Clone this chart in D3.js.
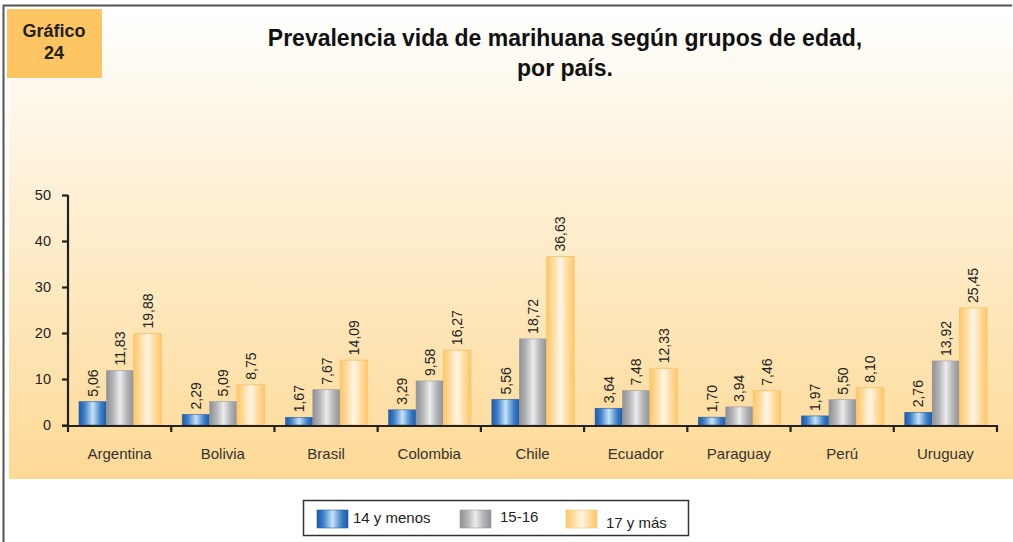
<!DOCTYPE html>
<html><head><meta charset="utf-8">
<script src="https://cdn.jsdelivr.net/npm/d3@7"></script>
<style>body{margin:0;background:#fff}svg{display:block;font-family:"Liberation Sans",Arial,sans-serif}</style>
</head><body>
<svg id="c" width="1013" height="542"></svg>
<script>
const categories = ["Argentina","Bolivia","Brasil","Colombia","Chile","Ecuador","Paraguay","Perú","Uruguay"];
const seriesNames = ["14 y menos","15-16","17 y más"];
const s14 = [5.06,2.29,1.67,3.29,5.56,3.64,1.70,1.97,2.76];
const s1516 = [11.83,5.09,7.67,9.58,18.72,7.48,3.94,5.50,13.92];
const s17 = [19.88,8.75,14.09,16.27,36.63,12.33,7.46,8.10,25.45];
const yTicks = [0,10,20,30,40,50];
const series = [s14, s1516, s17];

const svg = d3.select("#c");
const defs = svg.append("defs");
function hgrad(id, stops){
  const g = defs.append("linearGradient").attr("id",id).attr("x1","0").attr("x2","1").attr("y1","0").attr("y2","0");
  stops.forEach(([o,c])=>g.append("stop").attr("offset",o).attr("stop-color",c));
}
hgrad("gBlue",[[0,"#1d58a8"],[0.2,"#3b7fc8"],[0.5,"#c6e2f8"],[0.8,"#3b7fc8"],[1,"#1d58a8"]]);
hgrad("gGray",[[0,"#8f9093"],[0.25,"#b4b5b8"],[0.5,"#ececec"],[0.75,"#b4b5b8"],[1,"#8f9093"]]);
hgrad("gOrange",[[0,"#ffc768"],[0.25,"#ffdca0"],[0.5,"#fff6e8"],[0.75,"#ffdca0"],[1,"#ffc768"]]);
const bg = defs.append("linearGradient").attr("id","bgG").attr("x1","0").attr("x2","0").attr("y1","0").attr("y2","1");
bg.append("stop").attr("offset",0).attr("stop-color","#ffffff");
bg.append("stop").attr("offset",1).attr("stop-color","#fdd995");

const fills = ["url(#gBlue)","url(#gGray)","url(#gOrange)"];
const strokes = ["#2a5d9c","#9a9a9c","#f8c770"];

// frame
svg.append("rect").attr("x",9).attr("y",8).attr("width",1004).attr("height",471).attr("fill","url(#bgG)");
svg.append("line").attr("x1",3.5).attr("x2",3.5).attr("y1",5).attr("y2",542).attr("stroke","#555").attr("stroke-width",2);
svg.append("line").attr("x1",3).attr("x2",1012).attr("y1",5.5).attr("y2",5.5).attr("stroke","#555").attr("stroke-width",2);

// badge
svg.append("rect").attr("x",7).attr("y",9).attr("width",95).attr("height",69).attr("fill","#ffc562");
svg.append("text").attr("x",54).attr("y",37).attr("text-anchor","middle").attr("font-weight","bold").attr("font-size",18).attr("fill","#222").text("Gráfico");
svg.append("text").attr("x",54).attr("y",59).attr("text-anchor","middle").attr("font-weight","bold").attr("font-size",18).attr("fill","#222").text("24");

// title
svg.append("text").attr("x",565).attr("y",46).attr("text-anchor","middle").attr("font-weight","bold").attr("font-size",23).attr("fill","#111").text("Prevalencia vida de marihuana según grupos de edad,");
svg.append("text").attr("x",565).attr("y",76).attr("text-anchor","middle").attr("font-weight","bold").attr("font-size",23).attr("fill","#111").text("por país.");

const x0 = d3.scaleBand().domain(categories).range([68,997]).paddingInner(0).paddingOuter(0);
const x1 = d3.scaleBand().domain([0,1,2]).range([11, x0.bandwidth()-10]).padding(0);
const y = d3.scaleLinear().domain([0,50]).range([425,195]);

// bars
const g = svg.append("g");
categories.forEach((c,i)=>{
  series.forEach((s,k)=>{
    const v = s[i];
    const bx = x0(c)+x1(k);
    g.append("rect").attr("x",bx).attr("y",y(v)).attr("width",x1.bandwidth()).attr("height",y(0)-y(v))
      .attr("fill",fills[k]).attr("stroke",strokes[k]).attr("stroke-width",k===2?1:0.6);
    const lx = bx + x1.bandwidth()/2 + 5;
    const ly = y(v) - 5;
    g.append("text").attr("transform",`translate(${lx},${ly}) rotate(-90)`).attr("font-size",14).attr("fill","#222")
      .text(v.toFixed(2).replace(".",","));
  });
});

// y axis
const yAxis = d3.axisLeft(y).tickValues(yTicks).tickSize(6).tickPadding(11).tickFormat(d=>d);
const ya = svg.append("g").attr("transform","translate(68,0)").call(yAxis);
ya.select(".domain").attr("stroke","#222").attr("stroke-width",2.2).attr("d","M0,426V195");
ya.selectAll(".tick line").attr("stroke","#222").attr("stroke-width",2.2);
ya.selectAll(".tick text").attr("font-size",14.5).attr("fill","#222").attr("font-family","Liberation Sans, Arial, sans-serif");

// x axis
const xa = svg.append("g").attr("transform","translate(0,426)");
xa.append("line").attr("x1",62).attr("x2",998).attr("y1",0).attr("y2",0).attr("stroke","#222").attr("stroke-width",2.2);
const bounds = categories.map(c=>x0(c)).concat([x0.range()[1]]);
xa.selectAll("line.t").data(bounds).enter().append("line").attr("class","t")
  .attr("x1",d=>d).attr("x2",d=>d).attr("y1",0).attr("y2",6).attr("stroke","#222").attr("stroke-width",2.2);
xa.selectAll("text").data(categories).enter().append("text")
  .attr("x",d=>x0(d)+x0.bandwidth()/2).attr("y",33).attr("text-anchor","middle").attr("font-size",15).attr("fill","#333").text(d=>d);

// legend
const lg = svg.append("g");
lg.append("rect").attr("x",303.5).attr("y",500.5).attr("width",385).attr("height",35).attr("fill","#fff").attr("stroke","#333").attr("stroke-width",1.5);
const legPos = [[317,353,523],[460,500,522],[566,606,528]];
seriesNames.forEach((n,k)=>{
  lg.append("rect").attr("x",legPos[k][0]).attr("y",510).attr("width",31).attr("height",18).attr("fill",fills[k]).attr("stroke",strokes[k]).attr("stroke-width",0.6);
  lg.append("text").attr("x",legPos[k][1]).attr("y",legPos[k][2]).attr("font-size",15).attr("fill","#222").text(n);
});
</script>
</body></html>
